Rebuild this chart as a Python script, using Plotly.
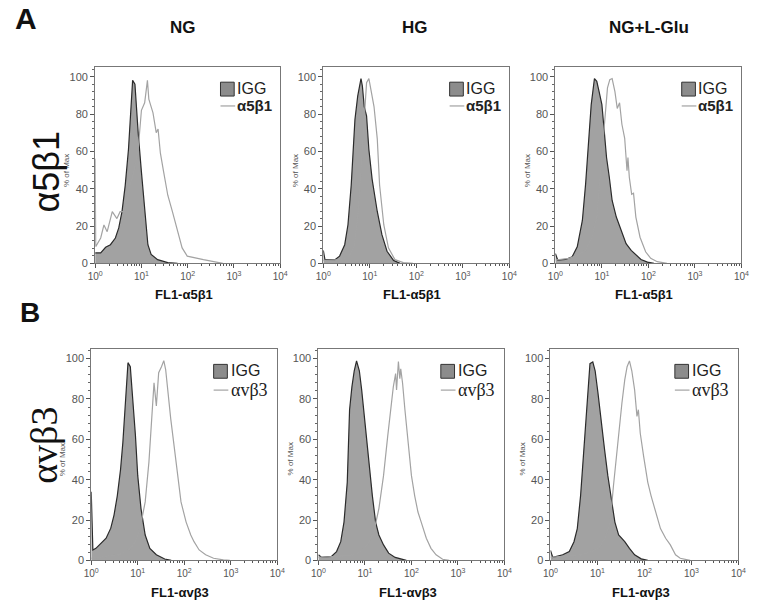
import plotly.graph_objects as go

# ---------------- data (log10 fluorescence position, % of max) ----------------
# Row A: alpha5 beta1
a_ng_igg_log = [0.0, 0.001, 0.12, 0.226, 0.33, 0.437, 0.51, 0.58, 0.65, 0.72, 0.776, 0.81, 0.86, 0.88, 0.93, 1.0, 1.07, 1.14, 1.21, 1.35, 1.57, 1.78]
a_ng_igg_pct = [5.6, 5.6, 5.6, 8.6, 10, 13.6, 19, 27.7, 41.8, 61, 84, 98, 96, 88, 70, 49, 28, 10, 4.8, 2, 0.4, 0]
a_ng_ab_log = [0.0, 0.002, 0.012, 0.12, 0.19, 0.26, 0.37, 0.47, 0.54, 0.65, 0.75, 0.82, 0.93, 1.0, 1.07, 1.13, 1.16, 1.25, 1.32, 1.36, 1.41, 1.48, 1.57, 1.67, 1.78, 1.88, 1.99, 2.13, 2.34, 2.62, 2.76]
a_ng_ab_pct = [56, 56, 9, 13.6, 20.6, 17, 27.7, 24, 27.7, 27.7, 41.8, 47, 61, 82, 86, 98, 88, 80.6, 70, 72, 59, 49, 36.5, 27.7, 17, 8.3, 3.9, 3, 2, 0.7, 0]

a_hg_igg_log = [0.0, 0.001, 0.035, 0.25, 0.35, 0.46, 0.53, 0.6, 0.65, 0.68, 0.74, 0.81, 0.84, 0.88, 0.93, 0.98, 1.05, 1.16, 1.26, 1.37, 1.51, 1.65]
a_hg_igg_pct = [7, 7, 2, 2, 3.9, 10, 20.7, 42, 66.7, 77, 89.7, 99, 95, 84, 79, 61, 45, 27.8, 15.4, 6.5, 1.6, 0]
a_hg_ab_log = [0.0, 0.39, 0.56, 0.67, 0.75, 0.82, 0.88, 0.93, 0.98, 1.03, 1.09, 1.16, 1.21, 1.3, 1.4, 1.54, 1.72, 1.93]
a_hg_ab_pct = [1.6, 2, 3.9, 10, 27.8, 52.6, 75.6, 96.8, 99, 93, 84, 66.7, 42, 20.7, 8.3, 2, 0.4, 0]

a_glu_igg_log = [0.0, 0.001, 0.05, 0.22, 0.36, 0.47, 0.58, 0.65, 0.72, 0.77, 0.84, 0.89, 0.94, 1.0, 1.05, 1.1, 1.16, 1.22, 1.31, 1.42, 1.52, 1.63, 1.73, 1.84, 1.98, 2.12]
a_glu_igg_pct = [5.3, 5.3, 1.8, 2.1, 3.5, 8.9, 23, 42.6, 67, 85, 99, 97.5, 92, 85, 71, 56.7, 46, 33.7, 24.8, 17.7, 10.6, 7, 4.4, 2.1, 0.7, 0]
a_glu_ab_log = [0.0, 0.29, 0.5, 0.65, 0.79, 0.89, 0.96, 1.01, 1.07, 1.12, 1.17, 1.22, 1.28, 1.33, 1.38, 1.43, 1.49, 1.54, 1.56, 1.59, 1.64, 1.68, 1.73, 1.82, 1.94, 2.05, 2.19, 2.4]
a_glu_ab_pct = [1.8, 2.7, 4.4, 7, 14, 24.8, 46, 62, 80, 94, 98.4, 99, 92, 83, 86, 74.5, 67, 49.6, 56.7, 46, 37, 37.6, 24.8, 14, 6.2, 2.7, 0.9, 0]

# Row B: alphav beta3
b_ng_igg_log = [0.0, 0.001, 0.035, 0.1, 0.21, 0.32, 0.42, 0.49, 0.56, 0.63, 0.68, 0.74, 0.79, 0.84, 0.89, 0.95, 1.0, 1.07, 1.16, 1.26, 1.4, 1.58, 1.72]
b_ng_igg_pct = [34, 34, 5.2, 6, 8.5, 11, 16, 22.5, 32, 45, 58.5, 78, 98, 96, 81, 62, 42, 25.7, 12.6, 6, 2.8, 0.7, 0]
b_ng_ab_log = [0.0, 0.32, 0.6, 0.81, 0.95, 1.05, 1.16, 1.24, 1.3, 1.35, 1.4, 1.45, 1.51, 1.56, 1.6, 1.65, 1.71, 1.78, 1.85, 1.93, 2.04, 2.14, 2.21, 2.32, 2.46, 2.63, 2.84, 2.98]
b_ng_ab_pct = [1.1, 2, 2.8, 5.2, 9.3, 16, 29, 48.7, 68, 88, 76.6, 93, 96, 99, 94.6, 83, 70, 57, 43.8, 29, 19, 12.6, 9.3, 5.2, 2.8, 1.1, 0.3, 0]

b_hg_igg_log = [0.0, 0.001, 0.07, 0.28, 0.39, 0.48, 0.55, 0.62, 0.67, 0.72, 0.77, 0.82, 0.88, 0.93, 0.98, 1.04, 1.09, 1.16, 1.23, 1.3, 1.4, 1.51, 1.65, 1.89]
b_hg_igg_pct = [2.8, 2.8, 1.5, 2, 4.4, 9.3, 19, 38.7, 74.7, 86, 94, 98.9, 94, 84.5, 73, 56.7, 45, 32, 19, 12.6, 7.7, 3.6, 1.5, 0]
b_hg_ab_log = [0.0, 0.42, 0.74, 0.91, 1.05, 1.19, 1.3, 1.4, 1.49, 1.56, 1.61, 1.66, 1.68, 1.72, 1.75, 1.77, 1.81, 1.86, 1.93, 2.0, 2.07, 2.14, 2.21, 2.32, 2.42, 2.53, 2.67, 2.81]
b_hg_ab_pct = [1.5, 2, 2.8, 4.4, 7.7, 14, 25.7, 42, 61.6, 78, 86, 92.6, 84.5, 98.5, 90, 95, 87.7, 74.7, 56.7, 42, 32, 24, 19, 11, 6, 2.8, 0.6, 0]

b_glu_igg_log = [0.0, 0.001, 0.05, 0.26, 0.4, 0.5, 0.57, 0.64, 0.71, 0.78, 0.84, 0.9, 0.95, 1.01, 1.08, 1.15, 1.22, 1.3, 1.37, 1.45, 1.58, 1.68, 1.79, 1.93, 2.07]
b_glu_igg_pct = [5, 5, 1.5, 2.8, 4.4, 9.3, 15.8, 32, 56.7, 81, 97.5, 98.4, 94, 83, 68, 55, 42, 29, 19, 12.6, 9.3, 6, 2.8, 0.8, 0]
b_glu_ab_log = [0.0, 0.33, 0.67, 0.88, 1.02, 1.16, 1.27, 1.34, 1.41, 1.47, 1.52, 1.58, 1.63, 1.68, 1.73, 1.79, 1.84, 1.87, 1.91, 1.98, 2.07, 2.14, 2.24, 2.34, 2.45, 2.55, 2.66, 2.76, 2.97]
b_glu_ab_pct = [1.5, 2, 2.8, 4.4, 6, 11, 19, 37, 53.4, 70, 78, 89.5, 96, 98.9, 94, 84.5, 71.4, 74.7, 63, 51.8, 38.7, 32, 24, 15.8, 11, 7.7, 2.8, 1.1, 0]

col_titles = ["NG", "HG", "NG+L-Glu"]
row_labels = ["α5β1", "αvβ3"]
row_letters = ["A", "B"]
x_titles = ["FL1-α5β1", "FL1-αvβ3"]
legend_ctrl = "IGG"
y_title = "% of Max"
x_tickvals = [1, 10, 100, 1000, 10000]
x_ticktext = ["10<sup>0</sup>", "10<sup>1</sup>", "10<sup>2</sup>", "10<sup>3</sup>", "10<sup>4</sup>"]
y_tickvals = [0, 20, 40, 60, 80, 100]

# ---------------- layout geometry (pixels) ----------------
W, H = 770, 611
def fx(x): return x / W
def fy(y): return 1 - y / H

rows = [
    dict(top=68, bottom=266, cols=[(89, 278), (322, 512), (559, 749)],
         curves=[(a_ng_igg_log, a_ng_igg_pct, a_ng_ab_log, a_ng_ab_pct),
                 (a_hg_igg_log, a_hg_igg_pct, a_hg_ab_log, a_hg_ab_pct),
                 (a_glu_igg_log, a_glu_igg_pct, a_glu_ab_log, a_glu_ab_pct)],
         title_y=297, ab_bold=True, ab_font="Arial, Liberation Sans, sans-serif",
         leg_dx=61, leg_dy=15, leg_gap=24, txt_dx=16, ab_size=15),
    dict(top=352, bottom=566, cols=[(85, 275), (317, 507), (554, 746)],
         curves=[(b_ng_igg_log, b_ng_igg_pct, b_ng_ab_log, b_ng_ab_pct),
                 (b_hg_igg_log, b_hg_igg_pct, b_hg_ab_log, b_hg_ab_pct),
                 (b_glu_igg_log, b_glu_igg_pct, b_glu_ab_log, b_glu_ab_pct)],
         title_y=598, ab_bold=False, ab_font="Liberation Serif, Times New Roman, serif",
         leg_dx=65, leg_dy=16, leg_gap=26, txt_dx=17, ab_size=18),
]

fig = go.Figure()
layout = dict(width=W, height=H, margin=dict(l=0, r=0, t=0, b=0),
              paper_bgcolor="white", plot_bgcolor="white", showlegend=False)
annotations = []
shapes = []

minor_x = [m * 10 ** d for d in range(4) for m in range(2, 10)]
FONT = "Arial, Liberation Sans, sans-serif"
IGG_FILL = "#a2a2a2"
IGG_LINE = "#2b2b2b"
AB_LINE = "#a3a3a3"


def note(text, x, y, size, family=FONT, color="#111", angle=0, xanchor="center"):
    annotations.append(dict(text=text, xref="paper", yref="paper", x=fx(x), y=fy(y),
                            xanchor=xanchor, yanchor="middle", textangle=angle,
                            showarrow=False, borderpad=0,
                            font=dict(family=family, size=size, color=color)))


k = 0
for ri, row in enumerate(rows):
    for ci, (x0, x1) in enumerate(row["cols"]):
        k += 1
        xa = "xaxis" if k == 1 else f"xaxis{k}"
        ya = "yaxis" if k == 1 else f"yaxis{k}"
        xr = "x" if k == 1 else f"x{k}"
        yr = "y" if k == 1 else f"y{k}"
        il, ip, al, ap = row["curves"][ci]
        fig.add_trace(go.Scatter(x=[10 ** v for v in il], y=ip, mode="lines",
                                 fill="tozeroy", fillcolor=IGG_FILL,
                                 line=dict(color=IGG_LINE, width=1.2),
                                 xaxis=xr, yaxis=yr, name="IGG"))
        fig.add_trace(go.Scatter(x=[10 ** v for v in al], y=ap, mode="lines",
                                 line=dict(color=AB_LINE, width=1.2),
                                 xaxis=xr, yaxis=yr, name=row_labels[ri]))
        layout[xa] = dict(domain=[fx(x0), fx(x1)], anchor=yr, type="log", range=[0, 4],
                          tickvals=x_tickvals, ticktext=x_ticktext, ticks="outside",
                          ticklen=4, tickcolor="#555", showline=True, mirror=True,
                          linecolor="#777", linewidth=1, showgrid=False, zeroline=False,
                          tickfont=dict(family=FONT, size=10, color="#555"),
                          minor=dict(tickvals=minor_x, ticks="outside", ticklen=2,
                                     tickcolor="#555", showgrid=False))
        layout[ya] = dict(domain=[fy(row["bottom"]), fy(row["top"])], anchor=xr,
                          range=[0, 105], tickvals=y_tickvals, ticks="outside",
                          ticklen=4, tickcolor="#555", showline=True, mirror=True,
                          linecolor="#777", linewidth=1, showgrid=False, zeroline=False,
                          tickfont=dict(family=FONT, size=11, color="#555"),
                          minor=dict(dtick=4, ticks="outside", ticklen=2,
                                     tickcolor="#666", showgrid=False))
        # axis titles
        note(f"<b>{x_titles[ri]}</b>", (x0 + x1) / 2 - 4, row["title_y"], 13)
        note(y_title, x0 - 29, (row["top"] + row["bottom"]) / 2 + 5, 8, color="#555", angle=-90)
        # legend key
        lx = x1 - row["leg_dx"]
        ly = row["top"] + row["leg_dy"]
        shapes.append(dict(type="rect", xref="paper", yref="paper",
                           x0=fx(lx), x1=fx(lx + 14), y0=fy(ly + 14), y1=fy(ly),
                           fillcolor="#8c8c8c", line=dict(color="#333", width=1)))
        note(legend_ctrl, lx + row["txt_dx"], ly + 6, 16, color="#222", xanchor="left")
        shapes.append(dict(type="line", xref="paper", yref="paper",
                           x0=fx(lx), x1=fx(lx + 15), y0=fy(ly + row["leg_gap"]),
                           y1=fy(ly + row["leg_gap"]),
                           line=dict(color="#b5b5b5", width=1.5)))
        ab_text = f"<b>{row_labels[ri]}</b>" if row["ab_bold"] else row_labels[ri]
        note(ab_text, lx + row["txt_dx"], ly + row["leg_gap"], row["ab_size"],
             family=row["ab_font"], color="#222", xanchor="left")

# column titles
for ci, t in enumerate(col_titles):
    note(f"<b>{t}</b>", [179, 416, 655][ci], 28, 17)
# panel letters
note("<b>A</b>", 18, 19, 30)
note("<b>B</b>", 22, 316, 28)
# row labels
note(row_labels[0], 39, 173, 36, angle=-90)
note(row_labels[1], 36, 450, 38, family="Liberation Serif, Times New Roman, serif", angle=-90)

layout["annotations"] = annotations
layout["shapes"] = shapes
fig.update_layout(**layout)
fig.write_html("out.html", config={"displayModeBar": False},
               post_script="document.body.style.margin='0';document.body.style.overflow='hidden';")
